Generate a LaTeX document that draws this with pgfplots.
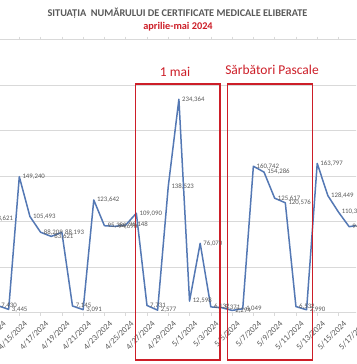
\documentclass[border=0pt]{standalone}
\usepackage{fontspec}
\setmainfont{Carlito}
\usepackage{pgfplots}
\usepackage{pgfplotstable}
\pgfplotsset{compat=1.18}
\definecolor{lineblue}{RGB}{84,120,180}
\definecolor{boxred}{RGB}{205,30,40}
\definecolor{txtgray}{RGB}{89,89,89}
\definecolor{gridgray}{RGB}{217,217,217}

\pgfplotstableread{
n y lab
-3 103621 103,621
-2 7430 7,430
-1 3445 3,445
0 149240 149,240
1 105493 105,493
2 88209 88,209
3 83621 83,621
4 88193 88,193
5 7145 7,145
6 3091 3,091
7 123642 123,642
8 95380 95,380
9 94690 94,690
10 96148 96,148
11 109090 109,090
12 7731 7,731
13 2577 2,577
14 138523 138,523
15 234364 234,364
16 12598 12,598
17 76070 76,070
18 6132 6,132
19 5371 5,371
20 2294 2,294
21 4049 4,049
22 160742 160,742
23 154286 154,286
24 125617 125,617
25 120576 120,576
26 6532 6,532
27 2990 2,990
28 163797 163,797
29 128449 128,449
30 110310 110,310
31 94300 94,300
32 96100 96,100
}\data

\begin{document}
\begin{tikzpicture}
\path[use as bounding box] (0,0) rectangle (356pt,364pt);
\clip (0,0) rectangle (356pt,364pt);
\fill[white] (0,0) rectangle (356pt,364pt);
\begin{axis}[
  at={(-12.62pt,51.5pt)}, anchor=south west,
  scale only axis, width=404.32pt, height=273pt,
  xmin=-3, xmax=35, ymin=0, ymax=300000,
  axis line style={draw=none},
  ymajorgrids, grid style={gridgray, line width=0.7pt},
  ytick={0,50000,100000,150000,200000,250000,300000},
  yticklabels={},
  scaled y ticks=false,
  xtick={-2,0,...,34},
  xticklabels={4/13/2024,4/15/2024,4/17/2024,4/19/2024,4/21/2024,4/23/2024,4/25/2024,4/27/2024,4/29/2024,5/1/2024,5/3/2024,5/5/2024,5/7/2024,5/9/2024,5/11/2024,5/13/2024,5/15/2024,5/17/2024,5/19/2024},
  xticklabel style={rotate=45, anchor=north east, font=\fontsize{8.5}{10}\selectfont, text=txtgray, inner sep=1pt, yshift=-5pt, xshift=1pt},
  tick align=outside, major tick length=3pt,
  xtick style={draw=gridgray, line width=0.6pt},
  ytick style={draw=none},
  clip=false,
]
\addplot[lineblue, line width=1.5pt, line join=round, mark=none,
  nodes near coords, point meta=explicit symbolic,
  every node near coord/.append style={anchor=west, font=\fontsize{6.8}{8}\selectfont, text=txtgray, inner sep=1pt, xshift=1.5pt}]
  table[x=n, y=y, meta=lab] {\data};
\draw[boxred, line width=1.3pt] (axis cs:10.92,251100) rectangle (axis cs:18.86,-52200);
\draw[boxred, line width=1.3pt] (axis cs:19.6,251100) rectangle (axis cs:27.57,-52200);
\end{axis}
\node[text=boxred, font=\fontsize{13.5}{15}\selectfont] at (175pt,292pt) {1 mai};
\node[text=boxred, font=\fontsize{13.5}{15}\selectfont] at (272pt,294pt) {Sărbători Pascale};
\node[text=txtgray, font=\bfseries\fontsize{10.3}{12}\selectfont] at (177.5pt,350.3pt) {SITUAȚIA\ \ NUMĂRULUI DE CERTIFICATE MEDICALE ELIBERATE};
\node[text=boxred, font=\bfseries\fontsize{10.3}{12}\selectfont] at (178pt,337pt) {aprilie-mai 2024};
\end{tikzpicture}
\end{document}
